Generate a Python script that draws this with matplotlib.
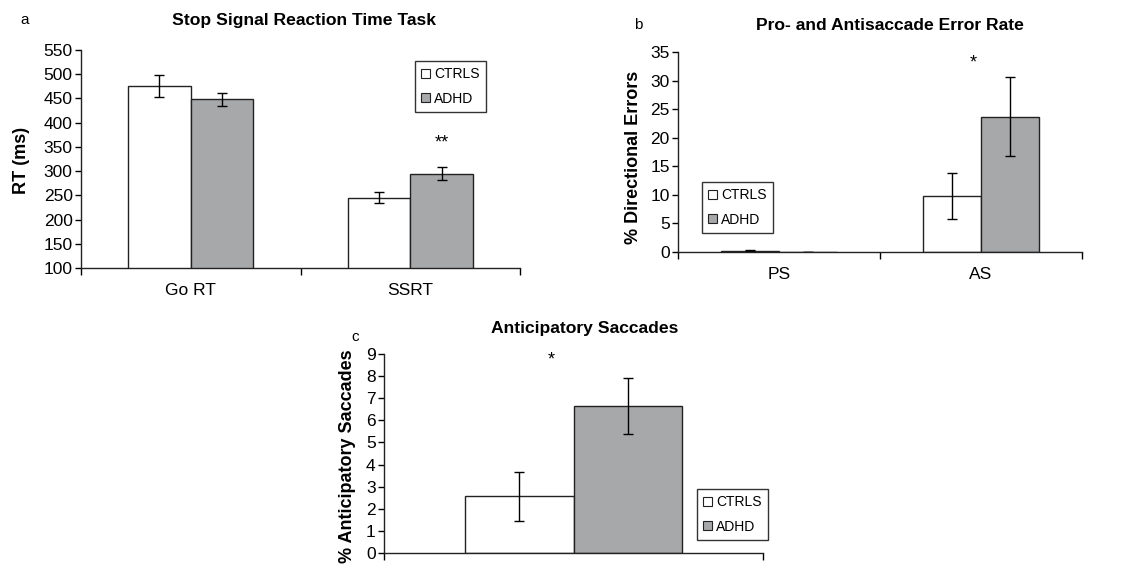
import matplotlib
matplotlib.use("Agg")
import matplotlib.pyplot as plt
from matplotlib.patches import Patch
import numpy as np

plt.rcParams['font.family'] = ['Liberation Sans', 'DejaVu Sans']

groups = ["CTRLS", "ADHD"]
colors = ["#FFFFFF", "#A7A8AA"]

# Panel a
a_title = "Stop Signal Reaction Time Task"
a_cats = ["Go RT", "SSRT"]
a_ctrl = [476, 245]
a_ctrl_err = [23, 11]
a_adhd = [448, 295]
a_adhd_err = [14, 14]
a_yticks = [100, 150, 200, 250, 300, 350, 400, 450, 500, 550]

# Panel b
b_title = "Pro- and Antisaccade Error Rate"
b_cats = ["PS", "AS"]
b_ctrl = [0.2, 9.8]
b_ctrl_err = [0.1, 4.1]
b_adhd = [0.02, 23.7]
b_adhd_err = [0.05, 6.9]
b_yticks = [0, 5, 10, 15, 20, 25, 30, 35]

# Panel c
c_title = "Anticipatory Saccades"
c_ctrl = [2.56]
c_ctrl_err = [1.1]
c_adhd = [6.66]
c_adhd_err = [1.27]
c_yticks = list(range(0, 10))

W, H = 1124, 568
fig = plt.figure(figsize=(W / 100, H / 100), dpi=100)


def ax_px(left, top, right, bottom):
    return fig.add_axes([left / W, 1 - bottom / H, (right - left) / W, (bottom - top) / H])


def draw_panel(ax, cats, ctrl, ctrl_err, adhd, adhd_err, yticks, ylabel, label_xy):
    n = len(cats)
    x = np.arange(n)
    bw = 0.285
    ekw = dict(ecolor="black", elinewidth=1.0, capsize=3.5, capthick=1.0)
    ax.bar(x - bw / 2, ctrl, bw, color=colors[0], edgecolor="#222222", linewidth=1.0,
           yerr=ctrl_err, error_kw=ekw, zorder=2)
    ax.bar(x + bw / 2, adhd, bw, color=colors[1], edgecolor="#222222", linewidth=1.0,
           yerr=adhd_err, error_kw=ekw, zorder=2)
    ax.set_xlim(-0.5, n - 0.5)
    ax.set_ylim(yticks[0], yticks[-1])
    ax.set_yticks(yticks)
    ax.set_yticklabels([str(t) for t in yticks], fontsize=12.5)
    ax.set_xticks(np.arange(n + 1) - 0.5)
    ax.set_xticklabels([])
    ax.set_xticks(x, minor=True)
    ax.set_xticklabels(cats, minor=True, fontsize=12.5)
    ax.tick_params(axis="x", which="minor", length=0, pad=11)
    ax.tick_params(axis="x", which="major", length=5, width=1, direction="out")
    ax.tick_params(axis="y", length=4, width=1, direction="out", pad=2)
    for s in ["top", "right"]:
        ax.spines[s].set_visible(False)
    for s in ["left", "bottom"]:
        ax.spines[s].set_linewidth(1.0)
        ax.spines[s].set_color("#222222")
    ax.set_ylabel(ylabel, fontsize=13, fontweight="bold")
    ax.yaxis.set_label_coords(label_xy[0] / W, 1 - label_xy[1] / H, transform=fig.transFigure)
    return ax


def add_legend(left, top, fs=10):
    handles = [Patch(facecolor=c, edgecolor="#222222", linewidth=0.8) for c in colors]
    leg = fig.legend(handles, groups, loc="upper left",
                     bbox_to_anchor=(left / W, 1 - top / H), fontsize=fs,
                     frameon=True, fancybox=False, edgecolor="black",
                     handlelength=0.65, handleheight=0.65, handletextpad=0.3,
                     borderpad=0.45, labelspacing=0.75, borderaxespad=0)
    leg.get_frame().set_linewidth(1.0)
    return leg


# Panel a
axa = ax_px(81, 50, 520, 268)
draw_panel(axa, a_cats, a_ctrl, a_ctrl_err, a_adhd, a_adhd_err, a_yticks, "RT (ms)", (30, 160))
axa.text(1 + 0.143, 358, "**", ha="center", va="center", fontsize=13)
fig.text(304 / W, 1 - 20 / H, a_title, ha="center", va="center", fontsize=12.6, fontweight="bold")
fig.text(25 / W, 1 - 20 / H, "a", ha="center", va="center", fontsize=11)
add_legend(415, 61)

# Panel b
axb = ax_px(678, 52, 1082, 252)
draw_panel(axb, b_cats, b_ctrl, b_ctrl_err, b_adhd, b_adhd_err, b_yticks, "% Directional Errors", (642, 157))
axb.text(1 - 0.04, 33.0, "*", ha="center", va="center", fontsize=13)
fig.text(890 / W, 1 - 25 / H, b_title, ha="center", va="center", fontsize=12.6, fontweight="bold")
fig.text(638 / W, 1 - 25 / H, "b", ha="center", va="center", fontsize=11)
add_legend(702, 182)

# Panel c
axc = ax_px(384, 354, 763, 553)
draw_panel(axc, [""], c_ctrl, c_ctrl_err, c_adhd, c_adhd_err, c_yticks, "% Anticipatory Saccades", (356, 456))
axc.set_xticks([], minor=True)
axc.set_xticks([-0.5, 0.5])
axc.set_xticklabels([])
axc.text(-0.06, 8.75, "*", ha="center", va="center", fontsize=13)
fig.text(585 / W, 1 - 328 / H, c_title, ha="center", va="center", fontsize=12.6, fontweight="bold")
fig.text(355 / W, 1 - 337 / H, "c", ha="center", va="center", fontsize=11)
add_legend(697, 489)

fig.savefig("out.png", dpi=100)
